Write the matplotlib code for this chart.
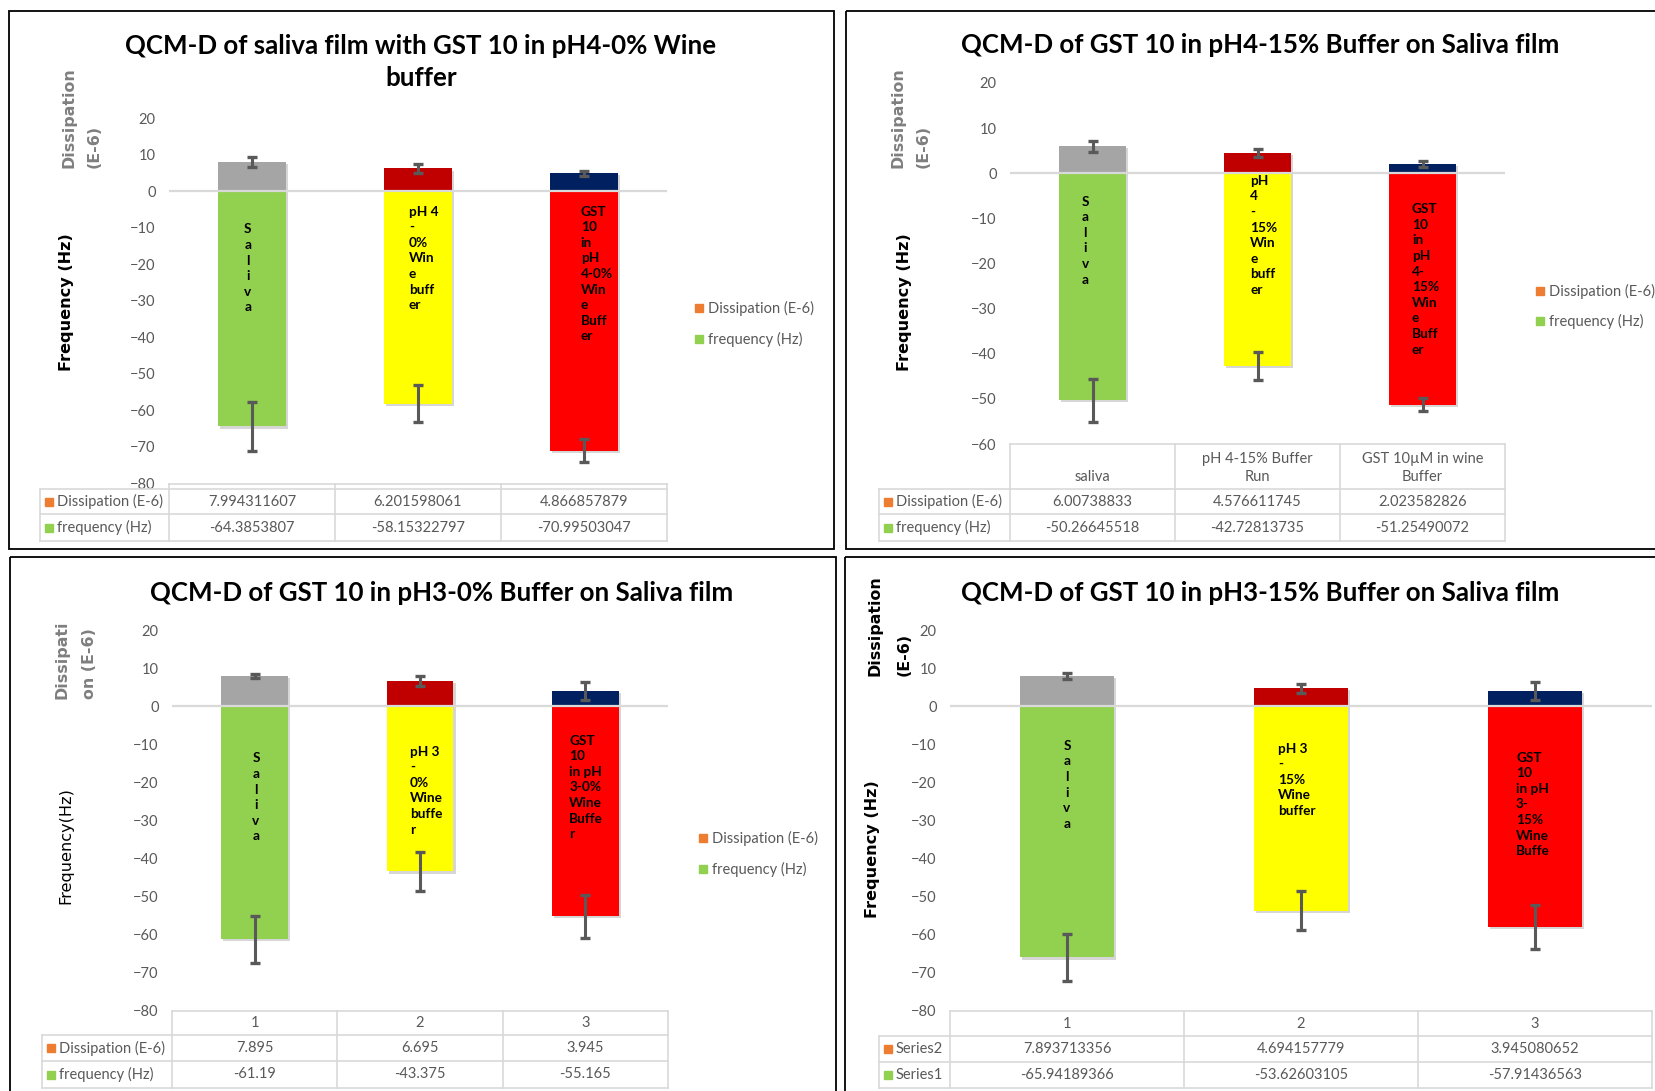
import numpy as np
import matplotlib.pyplot as plt
from matplotlib import patheffects as pe
from matplotlib.patches import Rectangle
from matplotlib.transforms import offset_copy

plt.rcParams["font.family"] = ["Lato", "DejaVu Sans"]

W, H = 1655, 1091

# === Dati =================================================================
DISS_COLORS = ["#A5A5A5", "#C00000", "#002060"]
FREQ_COLORS = ["#92D050", "#FFFF00", "#FF0000"]
ORANGE = "#ED7D31"
GREEN = "#92D050"
GRAY = "#595959"

# pannello 1 (alto sinistra)
p1_title = "QCM-D of saliva film with GST 10 in pH4-0% Wine\nbuffer"
p1_diss = [7.994311607, 6.201598061, 4.866857879]
p1_diss_err = [1.3, 1.3, 0.7]
p1_freq = [-64.3853807, -58.15322797, -70.99503047]
p1_freq_err = [6.6, 5.1, 3.1]
p1_header = ["", "", ""]
p1_rows = ["Dissipation (E-6)", "frequency (Hz)"]
p1_bar_text = ["S\na\nl\ni\nv\na", "pH 4\n-\n0%\nWin\ne\nbuff\ner",
               "GST\n10\nin\npH\n4-0%\nWin\ne\nBuff\ner"]

# pannello 2 (alto destra)
p2_title = "QCM-D of GST 10 in pH4-15% Buffer on Saliva film"
p2_diss = [6.00738833, 4.576611745, 2.023582826]
p2_diss_err = [1.2, 0.9, 0.6]
p2_freq = [-50.26645518, -42.72813735, -51.25490072]
p2_freq_err = [4.75, 3.05, 1.5]
p2_header = ["saliva", "pH 4-15% Buffer\nRun", "GST 10µM in wine\nBuffer"]
p2_rows = ["Dissipation (E-6)", "frequency (Hz)"]
p2_bar_text = ["S\na\nl\ni\nv\na", "pH\n4\n-\n15%\nWin\ne\nbuff\ner",
               "GST\n10\nin\npH\n4-\n15%\nWin\ne\nBuff\ner"]

# pannello 3 (basso sinistra)
p3_title = "QCM-D of GST 10 in pH3-0% Buffer on Saliva film"
p3_diss = [7.895, 6.695, 3.945]
p3_diss_err = [0.6, 1.3, 2.4]
p3_freq = [-61.19, -43.375, -55.165]
p3_freq_err = [6.2, 5.2, 5.6]
p3_header = ["1", "2", "3"]
p3_rows = ["Dissipation (E-6)", "frequency (Hz)"]
p3_bar_text = ["S\na\nl\ni\nv\na", "pH 3\n-\n0%\nWine\nbuffe\nr",
               "GST\n10\nin pH\n3-0%\nWine\nBuffe\nr"]

# pannello 4 (basso destra)
p4_title = "QCM-D of GST 10 in pH3-15% Buffer on Saliva film"
p4_diss = [7.893713356, 4.694157779, 3.945080652]
p4_diss_err = [0.8, 1.2, 2.4]
p4_freq = [-65.94189366, -53.62603105, -57.91436563]
p4_freq_err = [6.2, 5.15, 5.7]
p4_header = ["1", "2", "3"]
p4_rows = ["Series2", "Series1"]
p4_bar_text = ["S\na\nl\ni\nv\na", "pH 3\n-\n15%\nWine\nbuffer",
               "GST\n10\nin pH\n3-\n15%\nWine\nBuffe"]

legend_labels = ["Dissipation (E-6)", "frequency (Hz)"]

# === Layout (pixel, origine in alto a sinistra) ===========================
panels = [
    dict(title=p1_title, diss=p1_diss, diss_err=p1_diss_err, freq=p1_freq, freq_err=p1_freq_err,
         header=p1_header, rows=p1_rows, bar_text=p1_bar_text,
         border=(9, 11, 834, 549), ax=(169, 118, 667, 483.5), ymin=-80,
         title_xy=(421, 61.6),
         dlab="Dissipation\n(E-6)", dlab_x=(68.5, 94.5), dlab_y=168, dlab_c="#7F7F7F",
         flab="Frequency (Hz)", flab_xy=(66, 302), flab_w="bold",
         tab_left=40, tab_rows=[(483.5, 489), (489, 514), (514, 541)],
         legend=(695, [308, 339]),
         text_pos=[(-0.025, -10.9, "center"), (-0.055, -6.0, "left"), (-0.02, -6.0, "left")]),
    dict(title=p2_title, diss=p2_diss, diss_err=p2_diss_err, freq=p2_freq, freq_err=p2_freq_err,
         header=p2_header, rows=p2_rows, bar_text=p2_bar_text,
         border=(846, 11, 1670, 549), ax=(1010, 83, 1505, 444), ymin=-60,
         title_xy=(1260, 44.6),
         dlab="Dissipation\n(E-6)", dlab_x=(898, 923), dlab_y=168, dlab_c="#7F7F7F",
         flab="Frequency (Hz)", flab_xy=(905, 302), flab_w="bold",
         tab_left=879, tab_rows=[(444, 489), (489, 514), (514, 541)],
         legend=(1536, [291, 321]),
         text_pos=[(-0.045, -6.6, "center"), (-0.045, -2.0, "left"), (-0.064, -8.3, "left")]),
    dict(title=p3_title, diss=p3_diss, diss_err=p3_diss_err, freq=p3_freq, freq_err=p3_freq_err,
         header=p3_header, rows=p3_rows, bar_text=p3_bar_text,
         border=(10, 557, 836, 1100), ax=(172, 630, 668, 1011), ymin=-80,
         title_xy=(442, 593),
         dlab="Dissipati\non (E-6)", dlab_x=(62, 90), dlab_y=699, dlab_c="#7F7F7F",
         flab="Frequency(Hz)", flab_xy=(66, 846), flab_w="normal",
         tab_left=42, tab_rows=[(1011, 1035), (1035, 1061), (1061, 1088)],
         legend=(699, [838, 869]),
         text_pos=[(0.008, -14.1, "center"), (-0.06, -12.3, "left"), (-0.097, -9.4, "left")]),
    dict(title=p4_title, diss=p4_diss, diss_err=p4_diss_err, freq=p4_freq, freq_err=p4_freq_err,
         header=p4_header, rows=p4_rows, bar_text=p4_bar_text,
         border=(845, 557, 1670, 1100), ax=(950, 630, 1652, 1011), ymin=-80,
         title_xy=(1260, 593),
         dlab="Dissipation\n(E-6)", dlab_x=(875, 904), dlab_y=676, dlab_c="black",
         flab="Frequency (Hz)", flab_xy=(872, 849), flab_w="bold",
         tab_left=879, tab_rows=[(1011, 1036), (1036, 1062), (1062, 1088)],
         legend=None,
         text_pos=[(0.0, -10.8, "center"), (-0.098, -11.5, "left"), (-0.081, -13.9, "left")]),
]

fig = plt.figure(figsize=(W / 100, H / 100), dpi=100)
over = fig.add_axes([0, 0, 1, 1], zorder=5)
over.set_xlim(0, W)
over.set_ylim(H, 0)
over.axis("off")


def frac(l, t, r, b):
    return [l / W, 1 - b / H, (r - l) / W, (b - t) / H]


ekw = dict(ecolor=GRAY, elinewidth=2.2, capsize=3.5, capthick=2.4)
shadow = [pe.SimplePatchShadow(offset=(1.5, -1.5), shadow_rgbFace="#8c8c8c", alpha=0.35), pe.Normal()]
GRID = "#D9D9D9"

for p in panels:
    l, t, r, b = p["border"]
    over.add_patch(Rectangle((l, t), r - l, b - t, fill=False, ec="black", lw=1.3))

    # --- grafico a barre ---
    ax = fig.add_axes(frac(*p["ax"]))
    x = np.arange(len(p["diss"]))
    ax.bar(x, p["diss"], 0.405, color=DISS_COLORS, yerr=p["diss_err"], error_kw=ekw,
           path_effects=shadow)
    ax.bar(x, p["freq"], 0.405, color=FREQ_COLORS, yerr=p["freq_err"], error_kw=ekw,
           path_effects=shadow)
    ax.axhline(0, color=GRID, lw=1.6, zorder=3)
    ax.set_xlim(-0.5, len(x) - 0.5)
    ax.set_ylim(p["ymin"], 20)
    ax.set_yticks(np.arange(p["ymin"], 21, 10))
    ax.set_xticks([])
    for s in ax.spines.values():
        s.set_visible(False)
    ax.tick_params(axis="y", length=0, pad=9.5, labelsize=10.5, labelcolor=GRAY)
    ax.patch.set_alpha(0)

    tr = offset_copy(ax.transData, fig=fig, y=7.5, units="dots")
    for i, (txt, (dx, y0, ha)) in enumerate(zip(p["bar_text"], p["text_pos"])):
        ax.text(i + dx, y0, txt, ha=ha, va="top", ma=ha, fontsize=9.8, fontweight="bold",
                linespacing=1.36, transform=tr, zorder=6)

    # --- titolo e assi ---
    over.text(p["title_xy"][0], p["title_xy"][1], p["title"], ha="center", va="center",
              fontsize=18.6, fontweight="bold", linespacing=1.4)
    for xx, riga in zip(p["dlab_x"], p["dlab"].split("\n")):
        over.text(xx, p["dlab_y"], riga, rotation=90, ha="center", va="bottom",
                  family="DejaVu Sans", fontsize=11.4, fontweight="bold", color=p["dlab_c"])
    over.text(p["flab_xy"][0], p["flab_xy"][1], p["flab"], rotation=90, ha="center", va="center",
              family="DejaVu Sans", fontsize=11.6, fontweight=p["flab_w"])

    # --- tabella dati ---
    al, at, ar, ab = p["ax"]
    colw = (ar - al) / len(x)
    tl_ = p["tab_left"]
    (h0, h1), r1, r2 = p["tab_rows"]
    over.plot([al, ar], [h0, h0], color=GRID, lw=1.2)
    for yy in (h1, r1[1], r2[1]):
        over.plot([tl_, ar], [yy, yy], color=GRID, lw=1.2)
    over.plot([tl_, tl_], [h1, r2[1]], color=GRID, lw=1.2)
    for k in range(len(x) + 1):
        over.plot([al + k * colw, al + k * colw], [h0, r2[1]], color=GRID, lw=1.2)
    for k, htxt in enumerate(p["header"]):
        if htxt:
            if "\n" in htxt or p["ymin"] == -60:
                over.text(al + (k + 0.5) * colw, h1 - 5, htxt, ha="center", va="bottom",
                          fontsize=10.5, color=GRAY, linespacing=1.4)
            else:
                over.text(al + (k + 0.5) * colw, (h0 + h1) / 2, htxt, ha="center", va="center",
                          fontsize=10.5, color=GRAY)
    for (ya, yb), lab, col, vals in zip([r1, r2], p["rows"], [ORANGE, GREEN], [p["diss"], p["freq"]]):
        yc = (ya + yb) / 2
        over.add_patch(Rectangle((tl_ + 5, yc - 4), 8, 8, color=col))
        over.text(tl_ + 17, yc, lab, ha="left", va="center", fontsize=10.5, color=GRAY)
        for k, v in enumerate(vals):
            over.text(al + (k + 0.5) * colw, yc, str(v), ha="center", va="center",
                      fontsize=10.5, color=GRAY)

    # --- legenda ---
    if p["legend"]:
        lx, lys = p["legend"]
        for ly, lab, col in zip(lys, legend_labels, [ORANGE, GREEN]):
            over.add_patch(Rectangle((lx, ly - 4), 8, 8, color=col))
            over.text(lx + 13, ly, lab, ha="left", va="center", fontsize=10.5, color=GRAY)

fig.savefig("out.png", dpi=100, facecolor="white")
